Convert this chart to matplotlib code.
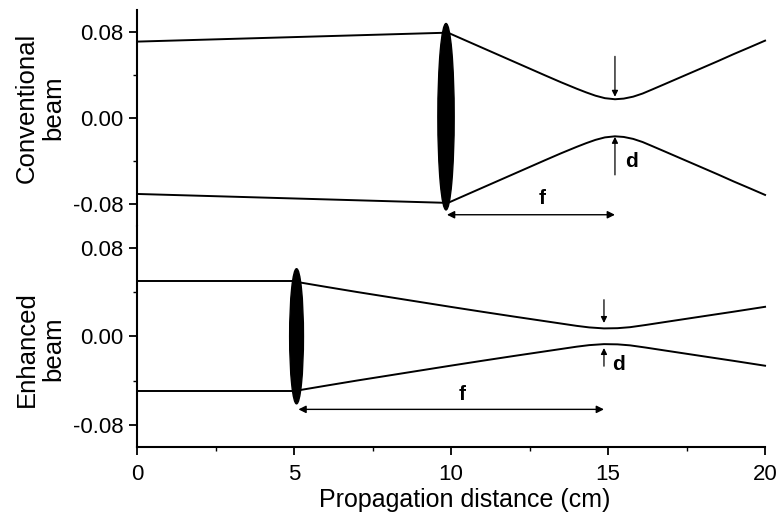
import matplotlib.pyplot as plt
from matplotlib.patches import Ellipse

plt.rcParams['font.family'] = ['Liberation Sans', 'DejaVu Sans']

# conventional beam, half-width vs. propagation distance (cm)
conv_in_x = [0.0, 9.9]
conv_in_w = [0.0707, 0.079]
conv_out_x = [9.9, 10.5, 11.0, 11.5, 12.0, 12.5, 13.0, 13.5, 14.0, 14.3, 14.6, 14.9, 15.22,
              15.5, 15.8, 16.1, 16.4, 16.8, 17.3, 18.0, 18.5, 19.0, 19.5, 20.0]
conv_out_w = [0.079, 0.0713, 0.0649, 0.0585, 0.0521, 0.0457, 0.0393, 0.0330, 0.0270, 0.0236, 0.0205, 0.0182, 0.0172,
              0.0178, 0.0196, 0.0225, 0.0262, 0.0312, 0.0375, 0.0463, 0.0526, 0.0591, 0.0653, 0.0716]
conv_lens_z = 9.84
conv_focus_z = 15.22

# enhanced beam
enh_in_x = [0.0, 5.1]
enh_in_w = [0.0495, 0.0495]
enh_out_x = [5.1, 6.0, 7.0, 8.0, 9.0, 10.0, 11.0, 12.0, 12.5, 13.0, 13.5, 14.0, 14.4, 14.87,
             15.3, 15.7, 16.2, 16.8, 17.5, 18.2, 19.0, 19.5, 20.0]
enh_out_w = [0.0490, 0.0447, 0.040, 0.0355, 0.031, 0.0265, 0.0221, 0.0178, 0.0157, 0.0136, 0.0115, 0.0094, 0.0080, 0.0071,
             0.0073, 0.0082, 0.0102, 0.0128, 0.0158, 0.0188, 0.0222, 0.0244, 0.0266]
enh_lens_z = 5.08
enh_focus_z = 14.87

yticks = [-0.08, 0.0, 0.08]
ytick_labels = ['-0.08', '0.00', '0.08']
xticks = [0, 5, 10, 15, 20]

fig = plt.figure(figsize=(7.79, 5.15), dpi=100)
ax1 = fig.add_axes([0.1759, 0.5621, 0.8062, 0.4184])
ax2 = fig.add_axes([0.1759, 0.1320, 0.8062, 0.4301])

for ax in (ax1, ax2):
    ax.set_xlim(0, 20)
    ax.set_ylim(-0.1, 0.1)
    for s in ('top', 'right'):
        ax.spines[s].set_visible(False)
    ax.spines['left'].set_linewidth(1.5)
    ax.spines['bottom'].set_linewidth(1.5)
    ax.set_yticks(yticks)
    ax.set_yticklabels(ytick_labels)
    ax.set_yticks([-0.04, 0.04], minor=True)
    ax.tick_params(axis='both', which='major', direction='out', length=6, width=1.3,
                   labelsize=16, pad=4)
    ax.tick_params(axis='both', which='minor', direction='out', length=3, width=1.0)

ax1.spines['bottom'].set_visible(False)
ax1.set_xticks([])
ax2.set_xticks(xticks)
ax2.set_xticks([2.5, 7.5, 12.5, 17.5], minor=True)
ax2.tick_params(axis='x', which='major', pad=6)

lw = 1.4
for ax, xin, win, xout, wout in ((ax1, conv_in_x, conv_in_w, conv_out_x, conv_out_w),
                                  (ax2, enh_in_x, enh_in_w, enh_out_x, enh_out_w)):
    for sign in (1, -1):
        ax.plot(xin, [sign * w for w in win], color='k', lw=lw, clip_on=False,
                solid_joinstyle='round')
        ax.plot(xout, [sign * w for w in wout], color='k', lw=lw, clip_on=False,
                solid_joinstyle='round')

# lenses
ax1.add_patch(Ellipse((conv_lens_z, 0.001), 0.52, 0.173, color='k', zorder=3))
ax2.add_patch(Ellipse((enh_lens_z, 0.0), 0.44, 0.122, color='k', zorder=3))


def arrow(ax, x0, y0, x1, y1, style='-|>', lw=0.9, ms=9):
    ax.annotate('', xy=(x1, y1), xytext=(x0, y0),
                arrowprops=dict(arrowstyle=style, color='k', lw=lw, mutation_scale=ms,
                                shrinkA=0, shrinkB=0))


# focal length and waist markers
arrow(ax1, 9.87, -0.090, conv_focus_z, -0.090, style='<|-|>', lw=1.0, ms=11)
ax1.text(12.89, -0.075, 'f', fontsize=15, fontweight='bold', ha='center', va='center')
arrow(ax1, conv_focus_z, 0.057, conv_focus_z, 0.0195)
arrow(ax1, conv_focus_z, -0.053, conv_focus_z, -0.0177)
ax1.text(15.75, -0.041, 'd', fontsize=15, fontweight='bold', ha='center', va='center')

arrow(ax2, 5.14, -0.066, enh_focus_z, -0.066, style='<|-|>', lw=1.0, ms=11)
ax2.text(10.34, -0.0527, 'f', fontsize=15, fontweight='bold', ha='center', va='center')
arrow(ax2, enh_focus_z, 0.033, enh_focus_z, 0.012)
arrow(ax2, enh_focus_z, -0.027, enh_focus_z, -0.0106)
ax2.text(15.33, -0.0256, 'd', fontsize=15, fontweight='bold', ha='center', va='center')

fig.text(40 / 779, 1 - 107.5 / 515, 'Conventional\nbeam', rotation=90, fontsize=18.5,
         ha='center', va='center', linespacing=1.15)
fig.text(40 / 779, 1 - 349 / 515, 'Enhanced\nbeam', rotation=90, fontsize=18.5,
         ha='center', va='center', linespacing=1.15)
fig.text(465 / 779, 1 - 506.5 / 515, 'Propagation distance (cm)', fontsize=18,
         ha='center', va='baseline')

fig.savefig('out.png', dpi=100)
